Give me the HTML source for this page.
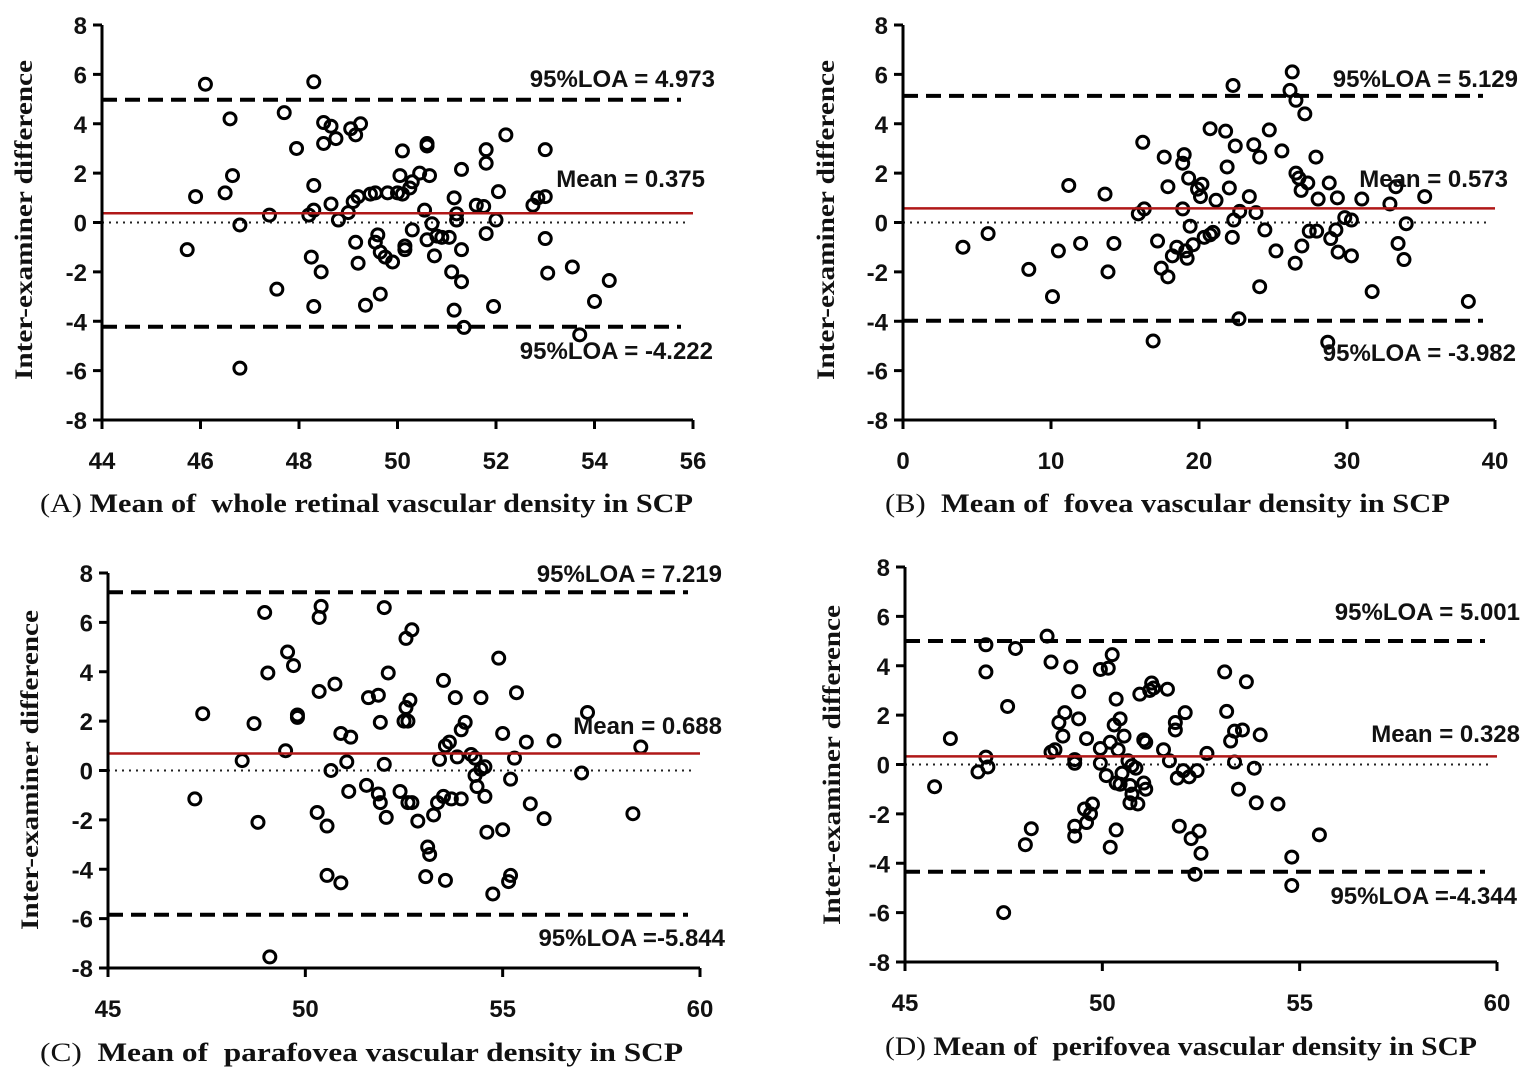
<!DOCTYPE html>
<html><head><meta charset="utf-8">
<style>
html,body{margin:0;padding:0;background:#fff;}
svg{display:block;}
text{font-family:"Liberation Sans",Arial,sans-serif;font-weight:bold;fill:#111;white-space:pre;}
.ser{font-family:"Liberation Serif","Times New Roman",serif;}
</style></head>
<body>
<svg id="chart" width="1535" height="1083" viewBox="0 0 1535 1083" xmlns="http://www.w3.org/2000/svg" xml:space="preserve"></svg>
<script>
// ---- Data (panel A: whole retinal) ----
const xA=[45.73,45.9,46.1,46.5,46.6,46.65,46.8,46.8,47.4,47.55,47.7,47.95,48.2,48.3,48.3,48.25,48.3,48.3,48.45,48.5,48.5,48.65,48.65,48.75,48.8,49.0,49.05,49.1,49.15,49.15,49.2,49.2,49.25,49.35,49.45,49.55,49.6,49.55,49.65,49.65,49.75,49.8,49.9,50.0,50.05,50.1,50.15,50.15,50.1,50.25,50.3,50.3,50.45,50.55,50.6,50.6,50.6,50.65,50.7,50.75,50.8,50.9,51.05,51.1,51.15,51.15,51.2,51.2,51.3,51.3,51.3,51.35,51.6,51.75,51.8,51.8,51.8,51.95,52.0,52.05,52.2,52.75,52.85,53.0,53.0,53.0,53.05,53.55,53.7,54.0,54.3];
const yA=[-1.1,1.05,5.6,1.2,4.2,1.9,-0.1,-5.9,0.3,-2.7,4.45,3.0,0.3,5.7,1.5,-1.4,-3.4,0.5,-2.0,4.05,3.2,3.9,0.75,3.4,0.1,0.4,3.8,0.85,3.55,-0.8,1.05,-1.65,4.0,-3.35,1.15,1.2,-0.5,-0.8,-1.2,-2.9,-1.4,1.2,-1.6,1.2,1.9,1.15,-0.95,-1.1,2.9,1.4,-0.3,1.65,2.0,0.5,-0.7,3.2,3.1,1.9,-0.05,-1.35,-0.55,-0.6,-0.6,-2.0,-3.55,1.0,0.35,0.1,-2.4,-1.1,2.15,-4.25,0.7,0.65,2.95,2.4,-0.45,-3.4,0.1,1.25,3.55,0.7,1.0,1.05,2.95,-0.65,-2.05,-1.8,-4.55,-3.2,-2.35];
const statsA=[4.973,0.375,-4.222];
// ---- Data (panel B: fovea) ----
const xB=[4.05,5.75,8.5,10.1,10.5,11.2,12.0,13.65,13.85,14.25,15.9,16.2,16.3,16.9,17.2,17.45,17.65,17.9,17.9,18.2,18.5,18.9,19.0,18.9,19.1,19.2,19.3,19.4,19.6,19.9,20.1,20.2,20.35,20.75,20.75,20.95,21.15,21.8,21.9,22.05,22.3,22.25,22.45,22.35,22.7,22.75,23.4,23.7,24.1,23.85,24.1,24.45,24.75,25.2,25.6,26.3,26.15,26.5,26.55,26.55,26.75,26.9,26.95,27.15,27.35,27.45,27.9,28.05,27.95,28.8,28.9,28.7,29.25,29.4,29.35,29.85,30.3,30.3,31.0,31.7,32.9,33.3,33.45,33.85,34.0,35.25,38.2];
const yB=[-1.0,-0.45,-1.9,-3.0,-1.15,1.5,-0.85,1.15,-2.0,-0.85,0.35,3.25,0.55,-4.8,-0.75,-1.85,2.65,1.45,-2.2,-1.35,-1.0,2.4,2.75,0.55,-1.15,-1.45,1.8,-0.15,-0.9,1.35,1.05,1.55,-0.6,3.8,-0.5,-0.4,0.9,3.7,2.25,1.4,5.55,-0.6,3.1,0.1,-3.9,0.45,1.05,3.15,2.65,0.4,-2.6,-0.3,3.75,-1.15,2.9,6.1,5.35,-1.65,4.95,2.0,1.8,1.3,-0.95,4.4,1.6,-0.35,2.65,0.95,-0.35,1.6,-0.65,-4.85,-0.3,-1.2,1.0,0.2,0.1,-1.35,0.95,-2.8,0.75,1.45,-0.85,-1.5,-0.05,1.05,-3.2];
const statsB=[5.129,0.573,-3.982];
// ---- Data (panel C: parafovea) ----
const xC=[47.2,47.4,48.4,48.7,48.8,48.97,49.05,49.1,49.5,49.55,49.7,49.8,49.8,50.3,50.35,50.35,50.4,50.55,50.55,50.65,50.75,50.9,50.9,51.05,51.1,51.15,51.55,51.6,51.85,51.85,51.9,51.9,52.0,52.05,52.0,52.1,52.4,52.5,52.55,52.65,52.55,52.6,52.7,52.6,52.7,52.85,53.05,53.1,53.15,53.25,53.35,53.4,53.5,53.5,53.55,53.55,53.65,53.7,53.8,53.85,53.95,53.95,54.05,54.2,54.3,54.3,54.35,54.45,54.45,54.55,54.55,54.6,54.75,54.9,55.0,55.0,55.15,55.2,55.2,55.3,55.35,55.6,55.7,56.05,56.3,57.0,57.15,58.3,58.5];
const yC=[-1.15,2.3,0.4,1.9,-2.1,6.4,3.95,-7.55,0.8,4.8,4.25,2.25,2.15,-1.7,3.2,6.2,6.65,-2.25,-4.25,0.0,3.5,-4.55,1.5,0.35,-0.85,1.35,-0.6,2.95,3.05,-0.95,-1.3,1.95,6.6,-1.9,0.25,3.95,-0.85,2.0,5.35,2.85,2.55,2.0,5.7,-1.3,-1.3,-2.05,-4.3,-3.1,-3.4,-1.8,-1.3,0.45,3.65,-1.05,-4.45,1.0,1.15,-1.15,2.95,0.55,1.65,-1.15,1.95,0.65,0.5,-0.2,-0.65,2.95,0.05,-1.05,0.15,-2.5,-5.0,4.55,1.5,-2.4,-4.5,-4.25,-0.35,0.5,3.15,1.15,-1.35,-1.95,1.2,-0.1,2.35,-1.75,0.95];
const statsC=[7.219,0.688,-5.844];
// ---- Data (panel D: perifovea) ----
const xD=[45.75,46.15,46.85,47.05,47.05,47.05,47.1,47.5,47.6,47.8,48.05,48.2,48.6,48.7,48.7,48.8,48.9,49.0,49.05,49.2,49.3,49.3,49.3,49.3,49.4,49.4,49.55,49.6,49.6,49.7,49.75,49.95,49.95,49.95,50.1,50.15,50.2,50.2,50.25,50.3,50.35,50.35,50.35,50.4,50.45,50.45,50.5,50.55,50.65,50.7,50.7,50.75,50.75,50.9,50.85,50.95,51.05,51.05,51.1,51.1,51.2,51.25,51.3,51.55,51.65,51.7,51.85,51.85,51.9,51.95,52.05,52.1,52.2,52.25,52.35,52.4,52.45,52.5,52.65,53.1,53.15,53.25,53.35,53.35,53.45,53.55,53.65,53.85,53.9,54.0,54.45,54.8,54.8,55.5];
const yD=[-0.9,1.05,-0.3,3.75,4.85,0.3,-0.1,-6.0,2.35,4.7,-3.25,-2.6,5.2,4.15,0.5,0.6,1.7,1.15,2.1,3.95,0.2,0.05,-2.9,-2.5,2.95,1.85,-1.8,1.05,-2.35,-2.0,-1.6,0.65,3.85,0.05,-0.45,3.9,-3.35,0.9,4.45,1.6,2.65,-0.75,-2.65,0.6,-0.8,1.85,-0.35,1.15,0.15,-0.85,-1.55,-0.05,-1.2,-1.6,-0.15,2.85,-0.75,1.0,-1.0,0.9,3.0,3.3,3.1,0.6,3.05,0.15,1.7,1.4,-0.55,-2.5,-0.25,2.1,-0.5,-3.0,-4.45,-0.25,-2.7,-3.6,0.45,3.75,2.15,0.95,1.35,0.1,-1.0,1.4,3.35,-0.15,-1.55,1.2,-1.6,-3.75,-4.9,-2.85];
const statsD=[5.001,0.328,-4.344];
const yTicks=[-8,-6,-4,-2,0,2,4,6,8];
const xTicksA=[44,46,48,50,52,54,56];
const xTicksB=[0,10,20,30,40];
const xTicksC=[45,50,55,60];
const xTicksD=[45,50,55,60];

const NS="http://www.w3.org/2000/svg";
const svg=document.getElementById('chart');
function mk(tag,attrs,parent,text){const e=document.createElementNS(NS,tag);for(const k in attrs)e.setAttribute(k,attrs[k]);if(text!==undefined)e.textContent=text;parent.appendChild(e);return e;}

const panels=[
 {id:'a',xs:xA,ys:yA,st:statsA,xt:xTicksA,x0:44,x1:56,L:102,R:693,T:25,B:420,
  labels:[["95%LOA = 4.973",715,87],["Mean = 0.375",705,187],["95%LOA = -4.222",713,359]],
  ytx:32,yty:220,tag:"(A) ",title:"Mean of  whole retinal vascular density in SCP",tx:40,ty:512,tw:653},
 {id:'b',xs:xB,ys:yB,st:statsB,xt:xTicksB,x0:0,x1:40,L:903,R:1495,T:25,B:420,
  labels:[["95%LOA = 5.129",1518,87],["Mean = 0.573",1508,187],["95%LOA = -3.982",1516,361]],
  ytx:834,yty:220,tag:"(B)  ",title:"Mean of  fovea vascular density in SCP",tx:885,ty:512,tw:565},
 {id:'c',xs:xC,ys:yC,st:statsC,xt:xTicksC,x0:45,x1:60,L:108,R:700,T:573,B:968,
  labels:[["95%LOA = 7.219",722,582],["Mean = 0.688",722,734],["95%LOA =-5.844",725,946]],
  ytx:38,yty:770,tag:"(C)  ",title:"Mean of  parafovea vascular density in SCP",tx:40,ty:1061,tw:643},
 {id:'d',xs:xD,ys:yD,st:statsD,xt:xTicksD,x0:45,x1:60,L:905,R:1497,T:567,B:962,
  labels:[["95%LOA = 5.001",1520,620],["Mean = 0.328",1520,742],["95%LOA =-4.344",1517,904]],
  ytx:840,yty:765,tag:"(D) ",title:"Mean of  perifovea vascular density in SCP",tx:885,ty:1055,tw:592}
];

panels.forEach(p=>{
  const g=mk('g',{},svg);
  
  
  const sx=v=>p.L+(v-p.x0)/(p.x1-p.x0)*(p.R-p.L);
  const sy=v=>p.B-(v+8)/16*(p.B-p.T);
  const z=mk('line',{x1:p.L,x2:p.R-8,y1:sy(0),y2:sy(0),stroke:'#222','stroke-width':2,'stroke-dasharray':'2,5'},g);
  
  
  const up=mk('line',{x1:p.L,x2:p.R-12,y1:sy(p.st[0]),y2:sy(p.st[0]),stroke:'#000','stroke-width':4,'stroke-dasharray':'15,8'},g);
  
  
  const lo=mk('line',{x1:p.L,x2:p.R-12,y1:sy(p.st[2]),y2:sy(p.st[2]),stroke:'#000','stroke-width':4,'stroke-dasharray':'15,8'},g);
  
  
  p.xs.forEach((xv,i)=>{
    const c=mk('circle',{cx:sx(xv),cy:sy(p.ys[i]),r:6,fill:'none',stroke:'#000','stroke-width':3},g);
    
    
  });
  const m=mk('line',{x1:p.L,x2:p.R,y1:sy(p.st[1]),y2:sy(p.st[1]),stroke:'#b01818','stroke-width':2.5},g);
  
  
  const ya=mk('line',{x1:p.L,x2:p.L,y1:p.T,y2:p.B+1.5,stroke:'#000','stroke-width':3},g);
  
  
  const xa=mk('line',{x1:p.L-1.5,x2:p.R,y1:p.B,y2:p.B,stroke:'#000','stroke-width':3},g);
  
  
  yTicks.forEach(t=>{
    mk('line',{x1:p.L-9,x2:p.L,y1:sy(t),y2:sy(t),stroke:'#000','stroke-width':3},g);
    const tl=mk('text',{x:p.L-15,y:sy(t)+9,'text-anchor':'end','font-size':24},g,String(t));
    
    
  });
  p.xt.forEach(t=>{
    mk('line',{x1:sx(t),x2:sx(t),y1:p.B,y2:p.B+9,stroke:'#000','stroke-width':3},g);
    const tl=mk('text',{x:sx(t),y:p.B+49,'text-anchor':'middle','font-size':24},g,String(t));
    
    
  });
  p.labels.forEach(l=>{
    const a=mk('text',{x:l[1],y:l[2],'text-anchor':'end','font-size':24},g,l[0]);
    
    
  });
  const yt=mk('text',{x:p.ytx,y:p.yty,'text-anchor':'middle','font-size':25,'class':'ser',textLength:320,lengthAdjust:'spacingAndGlyphs',transform:`rotate(-90 ${p.ytx} ${p.yty})`},g,'Inter-examiner difference');
  
  
  const xtt=mk('text',{x:p.tx,y:p.ty,'font-size':26,'class':'ser',textLength:p.tw,lengthAdjust:'spacingAndGlyphs'},g);
  
  
  mk('tspan',{'font-weight':'normal'},xtt,p.tag);
  mk('tspan',{},xtt,p.title);
});
</script>
</body></html>
